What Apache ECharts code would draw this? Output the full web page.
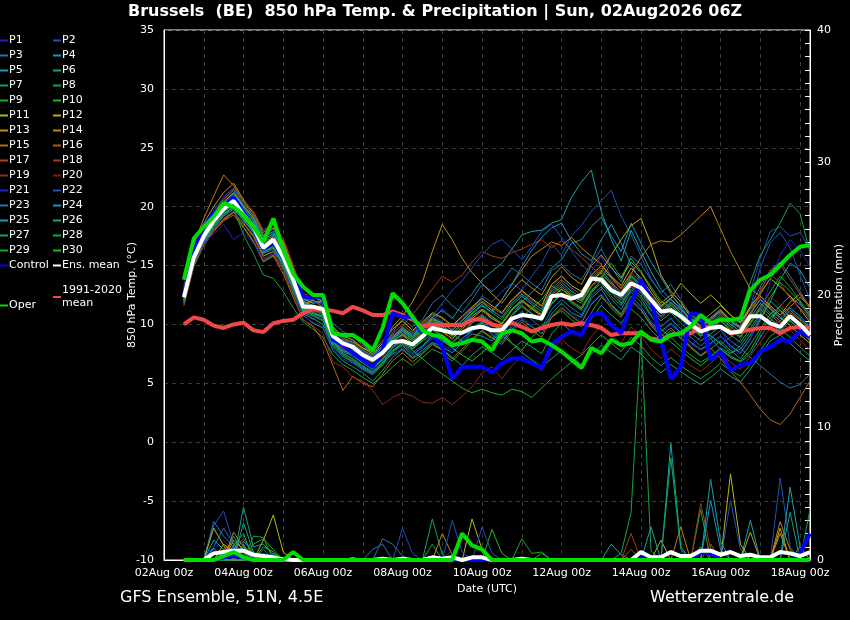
<!DOCTYPE html>
<html>
<head>
<meta charset="utf-8">
<script src="https://cdn.jsdelivr.net/npm/echarts@6/dist/echarts.min.js"></script>
<style>
html,body{margin:0;padding:0;background:#000;}
#chart{width:850px;height:620px;}
</style>
</head>
<body>
<div id="chart"></div>
<script>
// forecast hours after 02Aug 00z (6-hourly steps)
const hours = [12,18,24,30,36,42,48,54, 60,66,72,78,84,90,96,102, 108,114,120,126,132,138,144,150, 156,162,168,174,180,186,192,198, 204,210,216,222,228,234,240,246, 252,258,264,270,276,282,288,294, 300,306,312,318,324,330,336,342, 348,354,360,366,372,378,384,390];
const xTickLabels = ['02Aug 00z','04Aug 00z','06Aug 00z','08Aug 00z','10Aug 00z','12Aug 00z','14Aug 00z','16Aug 00z','18Aug 00z'];

// 850 hPa temperature (°C)
const ensMean = [12.3,15.7,17.5,18.8,19.8,20.5,19.3,18.3, 16.5,17.2,15.7,13.8,11.5,11.5,11.3,9.0, 8.4,8.1,7.4,7.0,7.6,8.5,8.6,8.3, 9.0,9.7,9.5,9.3,9.3,9.7,9.8,9.5, 9.5,10.5,10.8,10.7,10.5,12.4,12.5,12.2, 12.5,13.9,13.8,12.9,12.5,13.5,13.1,12.1, 11.1,11.2,10.7,10.0,9.4,9.7,9.8,9.3, 9.4,10.7,10.7,10.1,9.8,10.7,10.0,9.1];
const control = [12.5,16.2,18.3,19.5,20.0,20.8,19.5,18.3, 16.4,17.0,15.6,14.3,12.35,12.35,12.35,8.7, 8.3,7.55,7.0,6.4,7.8,10.95,10.65,10.65, 9.25,9.1,8.1,5.4,6.4,6.4,6.4,5.95, 6.7,7.1,7.1,6.7,6.3,8.25,8.95,9.4, 9.1,10.8,11.0,9.95,9.25,11.8,13.8,12.1, 8.7,5.4,6.4,10.95,10.8,7.0,7.7,6.1, 6.55,6.7,7.7,8.1,8.7,8.55,9.4,8.95];
const oper = [13.8,17.3,18.3,19.15,20.3,20.0,19.3,18.3, 17.0,19.0,16.3,14.3,13.2,12.5,12.5,9.25, 9.1,9.1,8.55,7.8,9.7,12.65,11.8,10.65, 9.5,9.1,8.95,8.25,8.4,8.7,8.55,7.8, 9.25,9.5,9.25,8.55,8.7,8.25,7.7,7.0, 6.3,8.0,7.55,8.7,8.25,8.4,9.4,8.7, 8.55,9.1,9.25,9.8,10.8,10.1,10.4,10.4, 10.5,12.9,13.8,14.2,15.05,15.9,16.6,16.75];
const clim = [10.0,10.6,10.4,9.9,9.7,10.0,10.15,9.5, 9.35,10.1,10.3,10.4,10.95,11.3,11.3,11.15, 10.95,11.5,11.2,10.8,10.8,11.1,10.8,10.4, 9.8,10.0,9.95,9.95,9.95,10.4,10.45,10.0, 9.8,10.15,9.8,9.4,9.7,9.95,10.1,9.95, 10.1,9.95,9.7,9.1,9.25,9.25,9.25,8.8, 8.7,9.1,9.25,9.25,9.7,9.8,9.8,9.25, 9.4,9.55,9.7,9.7,9.25,9.7,9.8,9.7];

const T1 = [12.5,15.5,17.2,18.5,19.6,20.1,19.0,17.6, 16.0,16.8,15.2,13.0,11.0,10.4,11.2,8.7, 7.9,7.4,6.8,6.1,7.2,8.8,9.3,8.1, 8.8,10.2,11.4,10.6,9.8,10.9,11.6,10.2, 9.1,10.3,12.6,11.8,10.4,13.1,14.2,13.0, 12.1,14.5,15.8,14.0,11.7,12.9,13.6,11.2, 9.8,10.6,9.1,8.2,8.9,10.3,9.6,8.0, 8.7,10.9,12.2,11.5,9.4,10.8,11.9,10.3];
const T2 = [12.0,15.9,17.8,19.1,20.0,20.8,19.8,18.9, 17.1,17.8,16.4,14.4,12.1,11.8,12.3,9.6, 8.8,8.6,7.9,7.2,7.8,8.1,9.0,9.4, 10.1,10.8,10.2,9.6,10.4,11.3,12.4,11.9, 12.8,13.5,12.9,14.1,15.2,16.8,15.9,17.5, 18.4,19.6,20.5,21.4,19.2,17.6,15.8,13.9, 12.6,11.8,11.2,10.5,9.8,9.1,8.3,8.9, 9.6,11.4,14.8,16.9,17.8,16.5,14.2,12.1];
const T3 = [12.7,16.1,17.9,19.2,20.3,21.0,19.6,18.5, 16.9,17.5,16.0,14.2,12.4,12.0,11.8,10.1, 9.4,9.0,8.2,7.6,8.1,9.3,10.5,9.8, 10.4,11.8,12.5,11.6,11.0,12.1,13.4,12.8, 13.6,14.8,14.2,13.5,12.9,14.6,15.1,14.3, 13.8,15.2,16.4,14.9,13.6,15.8,15.1,13.8, 12.7,13.4,12.1,10.8,9.9,10.6,11.3,10.2, 9.8,11.5,13.2,14.6,15.3,14.1,12.8,11.4];
const T4 = [11.8,15.2,17.0,18.2,19.2,19.8,18.8,17.9, 16.2,16.6,15.1,13.2,11.3,11.0,10.6,8.4, 7.6,7.0,6.4,5.9,6.8,7.5,7.9,7.2, 7.8,8.5,8.1,7.6,8.4,9.2,9.0,8.6, 9.4,10.8,11.9,12.7,13.6,14.8,15.5,16.9, 17.2,18.3,19.1,17.5,16.2,18.6,16.9,15.3, 14.0,12.6,11.5,10.4,9.6,8.8,7.9,7.2, 6.8,7.5,8.9,10.2,11.6,12.4,11.7,10.8];
const T5 = [12.9,16.3,18.2,19.5,20.6,21.4,20.1,19.0, 17.4,17.9,16.3,14.0,11.8,11.5,11.0,9.3, 8.5,8.0,7.6,7.3,8.0,8.9,9.6,9.0, 9.8,10.6,11.2,10.5,11.7,12.6,13.8,14.5, 15.2,16.4,17.6,17.9,18.0,18.6,18.9,20.8, 22.1,23.1,19.6,17.2,15.4,18.0,16.2,14.5, 13.0,12.1,11.4,10.2,9.5,9.0,8.4,7.6, 7.9,9.1,10.5,12.0,11.2,10.3,9.6,8.8];
const T6 = [12.1,15.4,17.4,18.6,19.5,20.2,19.1,18.0, 16.4,16.9,15.5,13.5,11.2,11.2,10.8,8.6, 7.8,7.5,6.9,6.3,7.0,7.8,8.2,7.4, 8.1,9.0,8.6,8.1,8.8,9.5,10.2,9.1, 8.5,9.6,10.4,9.8,9.2,10.9,11.8,11.0, 10.6,12.2,13.0,11.7,10.9,12.4,11.5,10.2, 9.4,10.1,9.3,8.5,7.9,8.4,9.0,8.2, 7.6,8.8,10.4,11.9,13.8,15.2,14.6,13.1];
const T7 = [11.9,15.0,16.9,18.1,19.0,19.6,18.3,17.1, 15.4,15.9,14.6,12.6,10.8,10.1,9.7,7.8, 6.9,6.4,5.9,5.2,6.1,7.2,7.9,7.1, 7.6,8.4,7.9,7.2,6.5,7.4,8.1,7.6, 7.0,7.8,8.6,8.1,7.5,9.2,10.1,9.4, 9.0,10.5,11.6,10.8,10.1,11.3,10.6,9.5, 8.7,9.5,8.8,8.0,7.3,7.9,8.6,7.8, 7.1,8.3,9.6,10.9,11.5,10.6,9.8,8.7];
const T8 = [12.4,15.6,17.3,18.4,19.3,19.9,17.6,16.0, 14.2,13.9,12.8,11.4,10.2,9.6,8.9,7.4, 6.6,6.1,5.5,5.0,5.6,6.4,7.1,6.5, 7.2,7.9,7.5,6.9,7.7,8.6,9.4,8.8, 9.6,10.8,11.5,10.9,10.3,11.7,12.6,11.8, 11.2,12.8,13.5,12.4,11.6,13.0,12.2,10.8, 9.6,8.9,8.1,7.4,6.8,7.3,8.0,7.5, 8.2,9.4,10.8,12.3,13.6,12.8,11.9,10.6];
const T9 = [12.6,15.8,17.6,18.9,19.9,20.6,19.4,18.4, 16.7,17.3,15.8,13.7,11.6,11.4,11.6,9.2, 8.6,8.3,7.8,7.4,8.2,9.1,9.4,8.7, 9.5,10.4,10.0,9.2,8.6,9.4,10.1,9.5, 8.8,9.9,10.6,11.4,12.1,13.3,12.7,12.0, 11.3,12.6,13.9,15.2,14.0,15.6,14.5,13.2, 12.0,11.4,10.6,9.8,9.1,9.7,10.4,9.6, 9.0,10.2,11.4,12.8,14.1,13.2,12.0,10.9];
const T10 = [12.2,15.3,17.1,18.4,19.4,20.0,18.9,17.8, 16.1,16.5,15.0,12.8,10.9,10.5,10.0,8.1, 7.3,6.8,6.2,5.8,6.6,7.7,8.5,7.9, 8.6,9.2,8.7,8.0,7.4,6.9,7.6,8.3, 9.1,8.4,7.8,8.9,9.8,10.6,11.2,10.4, 9.8,11.0,12.3,11.6,10.8,12.1,11.3,10.0, 9.2,8.5,7.8,7.1,6.5,7.2,7.9,7.3, 6.9,7.8,9.3,10.6,11.2,10.4,9.5,8.6];
const T11 = [12.8,16.2,18.0,19.3,20.4,21.2,20.0,19.1, 17.6,18.2,16.9,14.6,12.2,11.8,12.0,9.8, 9.0,8.7,8.0,7.5,8.4,9.6,10.3,9.5, 10.2,11.0,10.6,9.9,10.7,11.5,12.2,11.6, 11.0,12.1,12.9,12.2,11.6,13.4,14.1,13.3, 12.8,14.2,15.0,14.1,13.3,14.8,13.9,12.7, 11.6,12.2,13.5,12.6,11.8,12.5,11.7,10.8, 10.2,11.5,12.6,13.9,13.2,12.4,11.3,10.2];
const T12 = [12.0,15.1,16.8,18.0,18.9,19.5,18.6,17.5, 15.8,16.2,14.8,13.0,11.6,12.1,11.4,9.0, 8.2,7.8,7.1,6.6,7.5,8.6,9.1,8.4, 9.1,9.9,9.4,8.8,9.6,10.5,11.2,10.5, 10.0,11.2,12.0,11.3,10.7,12.2,13.0,12.4, 12.0,13.6,14.5,15.9,17.2,18.4,19.0,16.8, 14.2,12.8,11.9,10.6,9.8,10.5,11.2,10.4, 9.8,11.0,12.1,11.4,10.6,9.9,9.1,8.4];
const T13 = [13.2,16.6,18.6,20.0,21.2,22.0,20.6,19.4, 17.8,18.5,17.0,14.8,12.4,12.3,12.0,9.5, 8.7,8.5,8.0,7.7,8.6,9.8,10.7,11.9, 13.6,16.2,18.5,17.2,15.6,14.4,13.5,12.6, 11.8,12.9,13.8,13.1,12.5,14.0,14.9,14.0, 13.4,15.0,15.9,14.8,13.9,15.3,14.4,13.0, 11.8,12.5,11.6,10.9,10.2,10.9,11.6,10.8, 10.1,11.3,12.4,11.6,10.8,11.9,12.6,11.5];
const T14 = [13.0,16.8,19.0,20.9,22.7,21.8,20.4,19.2, 17.5,18.2,16.6,14.4,12.0,11.6,11.2,9.1, 8.3,7.9,7.3,6.9,7.7,8.8,9.6,8.9, 9.6,10.5,10.1,9.5,10.3,11.2,11.9,11.2, 12.1,13.4,14.6,15.8,16.4,17.0,16.7,17.4, 16.5,15.8,15.1,14.0,13.1,14.3,15.7,16.8, 17.1,17.0,17.6,18.4,19.2,20.0,18.1,16.2, 14.6,13.0,12.4,11.6,10.8,11.5,12.3,11.6];
const T15 = [11.6,14.9,16.7,17.9,18.8,19.3,18.2,17.0, 15.3,15.8,14.3,12.3,10.4,9.8,8.6,6.5, 4.4,5.6,5.0,4.7,5.8,6.9,7.6,6.8, 7.5,8.3,7.8,7.1,7.9,8.8,9.5,8.9, 8.3,9.4,10.2,9.5,8.9,10.6,11.4,10.7, 10.1,11.7,12.5,11.4,10.6,12.0,11.2,9.9, 9.0,9.7,8.9,8.1,7.4,8.0,7.1,6.0, 5.1,4.0,2.8,1.9,1.5,2.4,3.8,5.2];
const T16 = [12.3,15.7,17.7,19.0,20.1,20.9,19.7,18.7, 17.0,17.6,16.1,13.9,11.7,11.3,11.1,8.9, 8.1,7.7,7.2,6.8,7.6,8.5,9.2,8.6, 9.3,10.1,9.7,9.0,9.8,10.7,11.3,10.6, 10.1,11.3,12.0,11.5,10.9,12.5,13.2,12.5, 12.0,13.3,14.1,13.2,12.4,13.8,13.0,11.8, 10.9,11.6,10.8,10.0,9.3,9.9,10.6,9.8, 9.2,10.4,11.5,10.8,10.1,11.0,10.4,9.6];
const T17 = [12.5,16.0,18.1,19.5,20.6,21.5,20.5,19.6, 18.0,18.6,17.3,15.0,12.6,12.4,11.9,9.7, 8.9,8.4,7.8,7.3,8.0,9.2,10.0,9.3, 10.0,10.9,10.5,9.8,10.6,11.4,12.0,11.4, 10.9,12.0,12.8,12.1,11.5,13.0,13.8,13.1, 12.5,14.0,14.8,13.9,13.0,14.4,13.6,12.4, 11.4,12.1,11.2,10.4,9.7,10.3,11.0,10.2, 9.6,10.9,12.7,14.6,15.1,13.8,12.6,11.3];
const T18 = [12.2,15.6,17.6,18.9,19.9,20.7,19.5,18.5, 16.8,17.4,15.9,13.8,11.5,11.1,10.9,8.8, 8.0,7.6,7.0,6.5,7.4,8.7,9.9,10.8, 11.9,13.0,14.1,13.6,14.2,15.3,16.2,15.8, 15.6,16.1,16.4,16.8,17.2,16.5,17.1,16.4, 15.7,14.9,14.2,13.5,12.8,14.1,13.3,12.0, 11.0,11.8,11.0,10.1,9.4,10.1,10.8,10.0, 9.4,10.6,12.9,14.3,13.5,12.2,11.4,10.5];
const T19 = [11.7,15.0,16.8,18.0,19.0,19.6,18.5,17.4, 15.6,16.0,14.6,12.5,10.4,9.9,9.2,6.8, 6.4,5.5,5.2,4.4,3.2,3.8,4.2,3.9, 3.4,3.3,3.8,3.2,3.9,4.7,5.9,6.4, 5.4,6.5,7.3,6.7,6.1,7.8,8.7,8.0, 7.5,9.0,9.9,9.1,8.4,9.8,9.0,7.9, 7.1,7.9,7.2,6.5,6.0,6.7,7.5,6.8, 6.2,7.3,8.5,9.7,10.3,9.5,8.7,7.8];
const T20 = [12.6,15.9,17.7,19.0,20.0,20.7,19.4,18.3, 16.6,17.1,15.6,13.6,11.4,11.2,10.9,8.7, 7.9,7.6,7.0,6.6,7.3,8.3,8.9,8.3, 9.0,9.8,9.3,8.7,9.5,10.3,10.9,10.2, 9.7,10.9,11.7,11.0,10.4,11.9,12.7,12.0, 11.5,12.9,13.7,12.8,12.0,13.3,12.6,11.4, 10.5,11.2,10.4,9.7,9.0,9.6,10.3,9.5, 8.9,10.0,11.2,12.4,11.7,10.9,10.1,9.3];
const T21 = [12.0,15.2,16.9,17.7,18.5,17.2,17.8,16.9, 15.5,16.1,14.9,12.9,10.7,10.2,9.8,7.9, 7.1,6.7,6.1,5.7,6.5,7.4,8.0,7.4, 8.0,8.8,8.3,7.8,8.6,9.4,10.0,9.3, 8.7,9.8,10.6,9.9,9.3,10.7,11.5,10.8, 10.3,11.8,12.6,11.5,10.7,12.1,11.3,10.1, 9.3,10.0,9.2,8.4,7.8,8.3,9.0,8.1, 7.5,8.7,10.9,13.6,15.9,17.2,16.3,14.9];
const T22 = [12.9,16.4,18.3,19.7,20.8,21.6,20.2,19.2, 17.6,18.1,16.7,14.5,12.3,11.9,11.7,9.5, 8.7,8.3,7.7,7.3,8.1,9.0,9.8,9.2, 9.9,10.7,11.8,12.9,13.7,14.8,15.9,16.8, 17.2,16.4,15.5,16.6,17.9,18.5,17.4,16.2, 15.1,14.3,13.6,12.8,12.1,13.4,12.7,11.5, 10.6,11.3,10.5,9.7,9.1,9.7,10.4,9.6, 10.5,12.8,15.6,17.9,18.3,17.5,17.8,16.4];
const T23 = [11.8,15.1,17.0,18.3,19.3,20.0,18.8,17.8, 16.0,16.4,15.0,13.0,11.0,10.7,10.3,8.2, 7.4,6.9,6.3,5.9,6.7,7.6,8.3,7.6, 8.2,9.1,8.6,8.0,8.8,9.6,10.3,9.6, 9.1,10.3,11.1,10.4,9.7,11.3,12.1,11.4, 10.8,12.4,13.2,12.2,11.3,12.8,11.9,10.7, 9.8,10.5,9.6,8.9,8.2,8.8,9.5,8.6, 8.0,7.2,6.5,5.8,5.1,4.6,4.9,5.8];
const T24 = [12.4,15.8,17.6,18.9,19.8,20.4,19.2,18.2, 16.5,17.0,15.6,13.6,11.5,11.3,11.1,9.0, 8.3,8.0,7.4,6.9,7.7,8.7,9.4,8.8, 9.5,10.3,9.8,9.2,10.0,10.9,11.6,11.0, 12.1,13.4,14.9,16.3,17.4,18.2,18.6,17.1, 16.0,15.4,17.2,18.5,16.9,15.1,13.6,12.4, 11.5,12.2,11.3,10.5,9.8,10.4,11.1,10.3, 9.7,10.9,12.1,11.3,10.5,11.4,10.7,9.8];
const T25 = [12.7,16.0,17.9,19.2,20.2,21.1,19.9,18.8, 17.2,17.7,16.2,14.1,11.9,11.6,11.4,9.2, 8.5,8.2,7.6,7.1,7.9,8.9,9.7,9.1, 9.8,10.6,10.1,9.5,10.3,11.2,11.9,11.2, 10.6,11.8,12.6,11.9,11.3,12.8,13.6,12.8, 12.3,13.8,14.6,13.6,12.7,14.2,13.4,12.1, 11.2,11.9,11.0,10.2,9.5,10.1,10.8,10.0, 9.4,10.6,11.8,11.0,10.3,11.2,10.5,9.7];
const T26 = [12.1,15.5,17.3,18.6,19.6,20.3,19.1,18.1, 16.3,16.8,15.3,13.3,11.2,10.9,10.6,8.5, 7.7,7.3,6.7,6.2,7.0,8.0,8.6,8.0, 8.7,9.5,9.0,8.4,9.2,10.1,10.7,10.0, 9.5,8.4,7.6,7.0,6.4,7.1,7.8,7.2, 6.6,7.5,8.2,7.6,7.0,8.1,7.5,6.6, 5.9,6.6,6.0,5.4,4.9,5.5,6.2,5.6, 5.1,6.2,7.4,8.6,9.1,8.4,7.6,6.9];
const T27 = [12.3,15.6,17.5,18.8,19.7,20.4,19.2,18.2, 16.5,17.0,15.5,13.5,11.4,11.0,10.7,8.6, 7.8,7.4,6.8,6.3,7.1,8.1,8.7,8.1, 8.8,9.6,9.1,8.5,9.3,10.2,10.8,10.1, 9.6,10.8,11.6,10.9,10.3,11.8,12.6,11.9, 11.4,12.9,13.7,12.7,11.8,13.2,12.4,11.2, 10.3,11.0,10.1,9.3,8.6,9.2,9.9,9.1, 8.5,9.7,10.9,10.1,9.4,10.3,9.6,8.8];
const T28 = [12.6,15.9,17.8,19.1,20.1,20.8,19.6,18.6, 16.9,17.4,16.0,13.9,11.7,11.4,11.2,9.1, 8.4,8.1,7.5,7.0,7.8,8.8,9.5,8.9, 9.6,10.4,9.9,9.3,10.1,11.0,11.7,11.0, 10.4,11.6,12.4,11.7,11.1,12.6,13.4,12.6, 12.1,13.6,14.4,13.4,12.5,14.0,13.2,11.9, 11.0,11.7,10.8,10.0,9.3,9.9,10.6,9.8, 10.8,13.6,15.9,17.2,18.6,20.3,19.4,16.1];
const T29 = [12.0,15.3,17.1,18.4,19.4,20.0,18.9,17.9, 16.2,16.6,15.2,13.2,11.1,10.8,10.4,8.3, 7.5,7.1,6.5,6.0,6.8,7.8,8.4,7.8, 7.1,6.4,5.8,5.2,4.6,4.2,4.5,4.2, 4.0,4.5,4.3,3.8,4.6,5.4,6.1,6.8, 7.4,8.3,9.1,8.4,7.7,8.9,8.2,7.2, 6.5,7.2,6.5,5.9,5.4,6.0,6.7,6.1, 5.6,6.6,7.8,9.0,9.6,8.9,8.1,7.3];
const T30 = [12.4,15.7,17.6,18.9,19.9,20.5,19.3,18.3, 16.6,17.1,15.6,13.6,11.5,11.2,11.0,8.9, 8.2,7.9,7.3,6.8,7.6,8.6,9.2,8.6, 9.3,10.1,9.6,9.0,9.8,10.7,11.3,10.7, 10.1,11.3,12.1,11.4,10.8,12.3,13.0,12.3, 11.8,13.2,14.0,13.1,12.2,13.6,12.8,11.6, 10.7,11.4,10.5,9.7,9.0,9.6,10.3,9.5, 8.9,10.1,11.3,10.5,9.8,10.7,10.0,9.2];

// 6-hourly precipitation (mm)
const meanPrecip = [0,0,0,0.5,0.6,0.7,0.7,0.4, 0.3,0.2,0.05,0,0,0,0,0, 0,0,0,0,0.1,0,0.1,0, 0,0.2,0.1,0.2,0,0.2,0.2,0, 0,0,0.1,0,0,0,0,0, 0,0,0,0,0,0,0.6,0.2, 0.2,0.6,0.3,0.3,0.7,0.7,0.4,0.6, 0.3,0.4,0.2,0.2,0.6,0.5,0.3,0.6];
const controlPrecip = [0,0,0,0,0.2,0.3,0.2,0, 0,0,0,0,0,0,0,0, 0,0,0,0,0,0,0,0, 0,0,0,0,0,0,0,0, 0,0,0,0,0,0,0,0, 0,0,0,0,0,0,0.2,0, 0,0,0,0,0.6,0.5,0,0, 0,0,0,0,0,0,0.5,2.0];
const operPrecip = [0,0,0,0,0.3,0.6,0.2,0, 0,0,0,0.6,0,0,0,0, 0,0,0,0,0,0,0,0, 0,0,0,0,2.0,1.1,0.8,0, 0,0,0,0,0,0,0,0, 0,0,0,0,0,0,0,0, 0,0,0,0,0,0,0,0, 0,0,0,0,0,0,0,0];
const R1 = [0,0,0,0.8,1.5,0.6,0.4,0.2, 0,0,0,0,0,0,0,0, 0,0,0,0,0,0,0,0, 0,0,0,0,0,0,0,0, 0,0,0,0,0,0,0,0, 0,0,0,0,0,0,0,0, 0,0,0,0,0,0,0,0, 0,0,0,0,0,0,0,0];
const R2 = [0,0,0,2.6,3.7,1.2,0.6,0.3, 0,0,0,0,0,0,0,0, 0,0,0,0,0,0,2.4,0.5, 0,0,0,0,0,0,0,0, 0,0,0,0,0,0,0,0, 0,0,0,0,0,0,0,0, 0,0,0,0,0,0,0,4.5, 0.8,0,0,0,6.2,1.0,0,0];
const R3 = [0,0,0,2.9,1.8,1.0,0.5,0, 0.8,0,0,0,0,0,0,0, 0,0,0,0,1.6,1.2,0.3,0, 0,0,0,0,0,0,0,0, 0,0,0,0,0,0,0,0, 0,0,0,0,0,0,0,0, 0,0,0,0,0,0,0,0, 0,0,0,0,0,0,0,0];
const R4 = [0,0,0,0,0,0.8,1.4,0.6, 0,0.5,0,0,0,0,0,0, 0,0,0,0,0,0,0,0, 0,0,0,0,0,0,0,0, 0,0,0,0,0,0,0,0, 0,0,0,0,0,0,0,0, 0,0,0,0,0,0,0,0, 0,0,0,0,0,0,0,0];
const R5 = [0,0,0,1.5,0.8,0,1.2,0, 0.5,0,0,0,0,0,0,0, 0,0,0,0,0,0,0,0, 0,0,0,0,0,0,0,0, 0,0,0,0,0,0,0,0, 0,0,0,1.2,0.4,0,0,0, 0,8.8,1.0,0,0,0,0,0, 0,3.0,0,0,0,0,0,0];
const R6 = [0,0,0,0,0,0,4.0,1.0, 1.2,0.4,0,0,0,0,0,0, 0,0,0,0,0,0,0,0, 0,0,0,0,0,0,0,0, 0,0,0,0,0,0,0,0, 0,0,0,0,0,0,0,0, 0,0,0,0,0,0,0,0, 0,0,0,0,0,0,0,0];
const R7 = [0,0,0,0,0,1.8,0.6,0, 0,0,0,0,0,0,0,0, 0,0,0,0,0,0,0,0, 0,3.1,0.4,0,0,0,0,0, 0,0,0,0,0,0,0,0, 0,0,0,0,0,0,0,0, 0,0,0,0,0,0,0,0, 0,0,0,0,0,0,0,0];
const R8 = [0,0,0,0,0,0,0,0, 0,0,0,0,0,0,0,0, 0,0,0,0,0,0,0,0, 0,0,0,0,0,0,0,0, 0,0,0,0,0,0,0,0, 0,0,0,0,0.5,3.6,17.1,0.7, 0,0,0,0,0,0,0,0, 0,0,0,0,0,0,0,0];
const R9 = [0,0,0,0,0,0,0,1.2, 1.6,0.8,0,0,0,0,0,0, 0,0,0,0,0,0,0,0, 0,0,0,0,0,0,0,0, 0,0,1.6,0.5,0.6,0,0,0, 0,0,0,0,0,0,0,0, 0,0,0,0,3.8,0,0,0, 0,0,0,0,0,0,0,0];
const R10 = [0,0,0,0,0.5,1.0,0,0, 0,0,0,0,0,0,0,0, 0,0,0,0,0,0,0,0, 0,0,0,0,0,0,0,2.3, 0.5,0,0,0,0,0,0,0, 0,0,0,0,0,0,0,0, 0,0,0,0,0,0,0,0, 0,0,0,0,0,0,0,0];
const R11 = [0,0,0,2.4,1.1,0,0,0, 1.5,3.4,0.6,0,0,0,0,0, 0,0,0,0,0,0,0,0, 0,0,0,0,0,3.1,0.8,0, 0,0,0,0,0,0,0,0, 0,0,0,0,0,0,0,0, 0,0,0,0,0,0,0,6.5, 1.2,0,0,0,0,0,0,0];
const R12 = [0,0,0,0,1.2,0.6,0,0, 0,0,0,0,0,0,0,0, 0,0.2,0,0,0,0,0,0, 0,0,0,0,0,0,0,0, 0,0,0,0,0,0,0,0, 0,0,0,0,0,0,0,0, 1.5,0,0,0,0,0,0,0, 0,2.1,0,0,2.4,0,0,0];
const R13 = [0,0,0,0,0,1.5,0.8,0, 0,0,0,0,0,0,0,0, 0,0,0,0,0,0,0,0, 0,0,0,0,0,0,0,0, 0,0,0,0,0,0,0,0, 0,0,0,0,0,0,0,0, 0,0,0,0,0,0,0,0, 0,0,0,0,2.0,0,0,0];
const R14 = [0,0,0,0,0,2.1,1.0,0, 0,0,0,0,0,0,0,0, 0,0,0,0,0,0,0,0, 0,0,2.0,0.4,0,0,0,0, 0,0,0,0,0,0,0,0, 0,0,0,0,0,0,0,0, 0,0,2.5,0,0,0,0,0, 0,0,0,0,2.9,0.8,0,0];
const R15 = [0,0,0,0,0.8,1.3,0,0, 0,0,0,0,0,0,0,0, 0,0,0,0,0,0,0,0, 0,0,0,0,0,0,0,0, 0,0,0,0,0,0,0,0, 0,0,0,0,0,0,0,0, 0,0,0,0,1.0,0,0,0, 0,0,0,0,0,0,0,0];
const R16 = [0,0,0,0,0,0,0.7,0, 0,0,0,0,0,0,0,0, 0,0,0,0,0,0,0,0, 0,0,0,0,0,0,0,0, 0,0,0,0,0,0,0,0, 0,0,0,0,0,0,0,0, 0,0,0,0,0,1.2,0,0, 0,0,0,0,0,0,0,0];
const R17 = [0,0,0,0,0,0.9,1.6,0.5, 0,0,0,0,0,0,0,0, 0,0,0,0,0,0,0,0, 0,0,0,0,0,0,0,0, 0,0,0,0,0,0,0,0, 0,0,0,0,0,0.8,0,0, 0,0,0,0,0,0,0,0, 0,0,0,0,0,0,0,0];
const R18 = [0,0,0,0,0.6,0,0,0, 0,0,0,0,0,0,0,0, 0,0,0,0,0,0,0,0, 0,0,0,0,0,0,0,0, 0,0,0,0,0,0,0,0, 0,0,0,0,0,2.0,0,0, 0,0,0,0,4.3,0.8,0,0, 0,0,0,0,0,0,0,0];
const R19 = [0,0,0,0,0,0,0.5,0, 0,0,0,0,0,0,0,0, 0,0,0,0,0,0,0,0, 0,0,0,0,0,0,0,0, 0,0,0,0,0,0,0,0, 0,0,0,0,0,0,0.4,0, 0,0,0,0,0,0,0,0, 0,0,0,0,0,0,0,0];
const R20 = [0,0,0,0,0,0.4,0,0, 0,0,0,0,0,0,0,0, 0,0,0,0,0,0,0,0, 0,0,0,0,0,0,0,0, 0,0,0,0,0,0,0,0, 0,0,0,0,0,0,0,0, 0,0,0,0,0,0,0,0, 0,0,0,0,0,0,0,0];
const R21 = [0,0,0,0,0.6,0.9,0,0, 0,0,0,0,0,0,0,0, 0,0,0,0,0,0,0,0, 0,0,0,0.8,0,0,0,0, 0,0,0,0,0,0,0,0, 0,0,0,0,0,0,0,0, 0,0,0,0,0,0,0,0, 0,0,0,0,0,0,0,0];
const R22 = [0,0,0,0,0,0,0,0, 0,0,0,0,0,0,0,0, 0,0,0,0,0,0,0,0, 0,0,0,3.0,0.6,0,2.5,0.5, 0,0,0,0,0,0,0,0, 0,0,0,0,0,0,0,0, 0,0,0,0,0,0,0,0, 0,0,0,0,0,0,0,0];
const R23 = [0,0,0,1.0,2.4,1.2,0,0, 0,0,0,0,0,0,0,0, 0,0,0,0.8,1.2,0,0,0, 0,0,0,0,0,0,0,0, 0,0,0,0,0,0,0,0, 0,0,0,0,0,0,0,0, 0,0,0,0,0,0,0,0, 0,0,0,0,0,0,0,0];
const R24 = [0,0,0,0,0,0.5,0,0, 0,0,0,0,0,0,0,0, 0,0,0,0,0,0,0,0, 0,0,0,0,0,0,0,0, 0,0,0,0,0,0,0,0, 0,0,0,0,0,0,0,0, 0,0,0,0,0,4.5,0.8,0, 0,0,0,0,0,0,0,0];
const R25 = [0,0,0,0.9,0,0,1.0,0, 0,0,0,0,0,0,0,0, 0,0,0,0,0,0,0,0, 0,0,0,0,0,0,0,0, 0,0,0,0,0,0,0,0, 0,0,0,0,0,0,0,2.5, 0,0,0,0,0,6.1,1.4,0, 0,0,0,0,0,5.5,1.0,0];
const R26 = [0,0,0,0,0,0,2.8,0.6, 0,0,0,0,0,0,0,0, 0,0,0,0,0,0,0,0, 0,0,0,0,0,0,0,0, 0,0,0,0,0,0,0,0, 0,0,0,0,0,0,0,0, 0,0,0,0,0,0,0,0, 0,0,0,0,0,3.6,0,0];
const R27 = [0,0,0,0,0,1.1,2.0,0, 0,0,0,0,0,0,0,0, 0,0,0,0,0,0,0,0, 0,0,0,0,0,0,0,0, 0,0,0,0,0,0,0,0, 0,0,0,0,0,0,0,0, 0,7.7,0.8,0,0,0,0,0, 0,0,0,0,0,0,0,0];
const R28 = [0,0,0,0,0,0,0,1.8, 1.7,0,0,0,0,0,0,0, 0,0,0,0,0,0,0,0, 0,1.2,0,0,0,0,0,0, 0,0,0,0,0,0,0,0, 0,0,0,0,0,0,0,0, 0,0,0,0,0,0,0,0, 0,0,0,0,0,0,0,3.8];
const R29 = [0,0,0,0,0,0,0.8,0, 0,0,0,0,0,0,0,0, 0,0,0,0,0,0,0,0, 0,0,0,0,0,0,0,0, 0,0,0,0,0.5,0,0,0, 0,0,0,0,0,0,0,0, 0,0,0,0,0,0,0,0, 0,0,0,0,0,0,0,0];
const R30 = [0,0,0,0,0,0,0,0, 1.0,0.6,0,0,0,0,0,0, 0,0,0,0,0,0,0,0, 0,0,0,0,0,0,0,0, 0,0,0,0,0,0,0,0, 0,0,0,0,0,0,0,0, 0,0,0,0,0,0,0,0, 0,0,0,0,0,0,1.0,0];

const memberTemps = [T1,T2,T3,T4,T5,T6,T7,T8,T9,T10,T11,T12,T13,T14,T15,T16,T17,T18,T19,T20,T21,T22,T23,T24,T25,T26,T27,T28,T29,T30];
const memberPrecips = [R1,R2,R3,R4,R5,R6,R7,R8,R9,R10,R11,R12,R13,R14,R15,R16,R17,R18,R19,R20,R21,R22,R23,R24,R25,R26,R27,R28,R29,R30];
const memberColors = ['#2222cc','#1f50c0','#2672b4','#1a92c4','#12a4a8','#12a284','#14a264','#14a444','#18aa2c','#22b81a','#b8b812','#c0a812','#c09212','#c08012','#b86a12','#b05a16','#a84a18','#a03a18','#922818','#841818'];

const FONT = 'DejaVu Sans';
const pairs = arr => arr.map((v, i) => [hours[i], v]);

const series = [];
const memberNames = [];
memberTemps.forEach((arr, k) => {
  const name = 'P' + (k + 1);
  memberNames.push(name);
  const col = memberColors[k % 20];
  series.push({name, type:'line', yAxisIndex:1, data:pairs(memberPrecips[k]), symbol:'none', silent:true,
    color:col, lineStyle:{width:1, color:col}, itemStyle:{color:col}, z:2});
  series.push({name, type:'line', yAxisIndex:0, data:pairs(arr), symbol:'none', silent:true,
    color:col, lineStyle:{width:1, color:col}, itemStyle:{color:col}, z:2});
});
series.push({name:'1991-2020\nmean', type:'line', yAxisIndex:0, data:pairs(clim), symbol:'none', silent:true,
  color:'#f04848', lineStyle:{width:4, color:'#f04848'}, itemStyle:{color:'#f04848'}, z:3});
series.push({name:'Control', type:'line', yAxisIndex:1, data:pairs(controlPrecip), symbol:'none', silent:true,
  color:'#0000ff', lineStyle:{width:4, color:'#0000ff'}, itemStyle:{color:'#0000ff'}, z:3});
series.push({name:'Control', type:'line', yAxisIndex:0, data:pairs(control), symbol:'none', silent:true,
  color:'#0000ff', lineStyle:{width:4, color:'#0000ff'}, itemStyle:{color:'#0000ff'}, z:3});
series.push({name:'Ens. mean', type:'line', yAxisIndex:1, data:pairs(meanPrecip), symbol:'none', silent:true,
  color:'#ffffff', lineStyle:{width:4, color:'#ffffff'}, itemStyle:{color:'#ffffff'}, z:4});
series.push({name:'Ens. mean', type:'line', yAxisIndex:0, data:pairs(ensMean), symbol:'none', silent:true,
  color:'#ffffff', lineStyle:{width:4, color:'#ffffff'}, itemStyle:{color:'#ffffff'}, z:4});
series.push({name:'Oper', type:'line', yAxisIndex:1, data:pairs(operPrecip), symbol:'none', silent:true,
  color:'#00dd00', lineStyle:{width:4, color:'#00dd00'}, itemStyle:{color:'#00dd00'}, z:5});
series.push({name:'Oper', type:'line', yAxisIndex:0, data:pairs(oper), symbol:'none', silent:true,
  color:'#00dd00', lineStyle:{width:4, color:'#00dd00'}, itemStyle:{color:'#00dd00'}, z:5});

const legendBase = {orient:'vertical', itemWidth:8, itemHeight:2, itemGap:2, icon:'rect', padding:0, selectedMode:false,
  textStyle:{color:'#fff', fontSize:11, lineHeight:13, fontFamily:FONT, padding:[0,0,0,-4]}};
const col1 = memberNames.filter((n, i) => i % 2 === 0).concat(['Control']);
const col2 = memberNames.filter((n, i) => i % 2 === 1).concat(['Ens. mean']);

const gridLine = {show:true, lineStyle:{color:'#3c3c34', type:[4,4], width:1}};

const chart = echarts.init(document.getElementById('chart'), null, {renderer:'canvas'});
chart.setOption({
  backgroundColor:'#000',
  animation:false,
  textStyle:{fontFamily:FONT},
  title:[
    {text:'Brussels  (BE)  850 hPa Temp. & Precipitation | Sun, 02Aug2026 06Z', left:128, top:4, padding:0,
      textStyle:{color:'#fff', fontSize:16, fontWeight:'bold', fontFamily:FONT}},
    {text:'GFS Ensemble, 51N, 4.5E', left:120, top:590, padding:0, textStyle:{color:'#fff', fontSize:16, fontWeight:'normal', fontFamily:FONT}},
    {text:'Wetterzentrale.de', left:650, top:590, padding:0, textStyle:{color:'#fff', fontSize:16, fontWeight:'normal', fontFamily:FONT}}
  ],
  legend:[
    Object.assign({}, legendBase, {left:0, top:34, data:col1}),
    Object.assign({}, legendBase, {left:53, top:34, data:col2}),
    Object.assign({}, legendBase, {left:53, top:284, data:['1991-2020\nmean']}),
    Object.assign({}, legendBase, {left:0, top:299, data:['Oper']})
  ],
  grid:{left:164, right:40, top:30, bottom:60, outerBoundsMode:'none', containLabel:false,
    show:true, borderColor:'#ffffff', borderWidth:1, backgroundColor:'#000'},
  xAxis:{type:'value', min:0, max:390, interval:24,
    axisLine:{show:true, onZero:false, lineStyle:{color:'#fff'}}, axisTick:{show:false},
    axisLabel:{color:'#fff', fontSize:11, margin:8, fontFamily:FONT,
      formatter: v => (v % 48 === 0 && v <= 384) ? xTickLabels[v / 48] : ''},
    splitLine:gridLine,
    name:'Date (UTC)', nameLocation:'middle', nameGap:24, nameMoveOverlap:false,
    nameTextStyle:{color:'#fff', fontSize:11, fontFamily:FONT}},
  yAxis:[
    {type:'value', min:-10, max:35, interval:5, position:'left',
      axisLine:{show:true, onZero:false, lineStyle:{color:'#fff'}}, axisTick:{show:false},
      axisLabel:{color:'#fff', fontSize:11, margin:10, fontFamily:FONT},
      splitLine:gridLine,
      name:'850 hPa Temp. (°C)', nameLocation:'middle', nameGap:26, nameRotate:90, nameMoveOverlap:false,
      nameTextStyle:{color:'#fff', fontSize:11, fontFamily:FONT}},
    {type:'value', min:0, max:40, interval:10, position:'right',
      axisLine:{show:true, onZero:false, lineStyle:{color:'#fff'}},
      axisTick:{show:true, inside:true, length:5, lineStyle:{color:'#fff'}},
      minorTick:{show:true, splitNumber:10, length:5, lineStyle:{color:'#fff'}},
      axisLabel:{color:'#fff', fontSize:11, margin:7, fontFamily:FONT},
      splitLine:{show:false},
      name:'Precipitation (mm)', nameLocation:'middle', nameGap:24, nameRotate:90, nameMoveOverlap:false,
      nameTextStyle:{color:'#fff', fontSize:11, fontFamily:FONT}}
  ],
  series
});
</script>
</body>
</html>
